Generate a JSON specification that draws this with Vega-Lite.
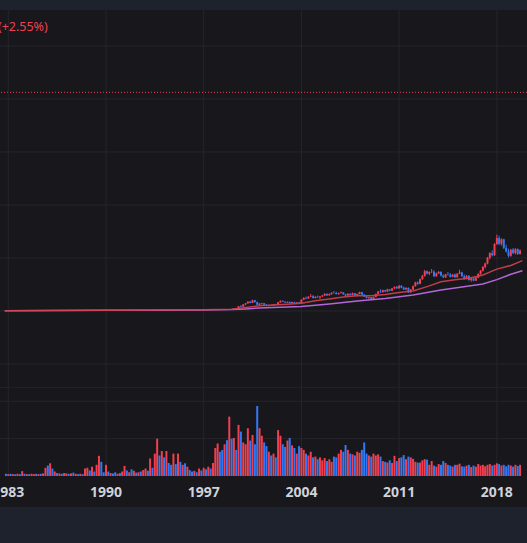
{
"$schema":"https://vega.github.io/schema/vega-lite/v6.json",
"background":"#1e222d",
"padding":{"top":10,"left":0,"right":0,"bottom":36},
"spacing":1,
"config":{"view":{"stroke":null,"fill":"#17171c"},"font":"Noto Sans"},
"datasets":{
"one":[{"n":1}],
"yr":[{"d":"1983-01-01","t":"1983"},{"d":"1990-01-01","t":"1990"},{"d":"1997-01-01","t":"1997"},{"d":"2004-01-01","t":"2004"},{"d":"2011-01-01","t":"2011"},{"d":"2018-01-01","t":"2018"}],
"pg":[{"g":-50},{"g":0},{"g":50},{"g":100},{"g":150},{"g":200},{"g":250}],
"vg":[{"g":1},{"g":2}],
"m":[{"d":"1982-10","r":0.3,"p":0.3},{"d":"1986-01","r":0.45,"p":0.4},{"d":"1990-01","r":0.75,"p":0.6},{"d":"1994-01","r":1.0,"p":0.8},{"d":"1997-01","r":1.15,"p":1.0},{"d":"1998-01","r":1.3,"p":1.1},{"d":"1999-01","r":1.6,"p":1.3},{"d":"2000-01","r":3.2,"p":2.0},{"d":"2001-01","r":5.0,"p":2.8},{"d":"2002-01","r":5.6,"p":3.3},{"d":"2003-01","r":6.4,"p":3.7},{"d":"2004-01","r":7.4,"p":4.2},{"d":"2005-01","r":9.6,"p":5.4},{"d":"2006-01","r":11.4,"p":6.6},{"d":"2007-01","r":13.2,"p":8.0},{"d":"2008-01","r":14.4,"p":9.4},{"d":"2009-01","r":14.4,"p":10.6},{"d":"2010-01","r":15.6,"p":11.8},{"d":"2011-01","r":17.4,"p":13.4},{"d":"2012-01","r":18.8,"p":15.0},{"d":"2013-01","r":23.0,"p":17.4},{"d":"2014-01","r":27.5,"p":19.8},{"d":"2015-01","r":29.5,"p":21.8},{"d":"2016-01","r":31.0,"p":23.6},{"d":"2017-01","r":34.0,"p":25.4},{"d":"2018-01","r":39.5,"p":29.6},{"d":"2019-01","r":43.0,"p":34.6},{"d":"2019-11","r":47.5,"p":38.0}],
"k":[
{"d":"1982-11","o":0.30,"h":0.35,"l":0.25,"c":0.28,"v":0.06},
{"d":"1983-01","o":0.28,"h":0.34,"l":0.24,"c":0.31,"v":0.05},
{"d":"1983-03","o":0.31,"h":0.36,"l":0.27,"c":0.29,"v":0.06},
{"d":"1983-05","o":0.29,"h":0.33,"l":0.25,"c":0.32,"v":0.05},
{"d":"1983-07","o":0.32,"h":0.36,"l":0.28,"c":0.30,"v":0.05},
{"d":"1983-09","o":0.30,"h":0.35,"l":0.26,"c":0.33,"v":0.06},
{"d":"1983-11","o":0.33,"h":0.37,"l":0.29,"c":0.31,"v":0.05},
{"d":"1984-01","o":0.31,"h":0.40,"l":0.30,"c":0.37,"v":0.13},
{"d":"1984-03","o":0.37,"h":0.39,"l":0.32,"c":0.33,"v":0.06},
{"d":"1984-05","o":0.33,"h":0.37,"l":0.30,"c":0.35,"v":0.05},
{"d":"1984-07","o":0.35,"h":0.38,"l":0.31,"c":0.32,"v":0.05},
{"d":"1984-09","o":0.32,"h":0.37,"l":0.30,"c":0.36,"v":0.06},
{"d":"1984-11","o":0.36,"h":0.40,"l":0.33,"c":0.38,"v":0.05},
{"d":"1985-01","o":0.38,"h":0.41,"l":0.34,"c":0.35,"v":0.06},
{"d":"1985-03","o":0.35,"h":0.40,"l":0.33,"c":0.39,"v":0.05},
{"d":"1985-05","o":0.39,"h":0.42,"l":0.35,"c":0.36,"v":0.06},
{"d":"1985-07","o":0.36,"h":0.41,"l":0.34,"c":0.40,"v":0.07},
{"d":"1985-09","o":0.40,"h":0.52,"l":0.38,"c":0.50,"v":0.22},
{"d":"1985-11","o":0.50,"h":0.58,"l":0.45,"c":0.48,"v":0.28},
{"d":"1986-01","o":0.48,"h":0.65,"l":0.46,"c":0.62,"v":0.34},
{"d":"1986-03","o":0.62,"h":0.66,"l":0.52,"c":0.55,"v":0.20},
{"d":"1986-05","o":0.55,"h":0.60,"l":0.50,"c":0.57,"v":0.12},
{"d":"1986-07","o":0.57,"h":0.60,"l":0.50,"c":0.52,"v":0.08},
{"d":"1986-09","o":0.52,"h":0.58,"l":0.49,"c":0.56,"v":0.07},
{"d":"1986-11","o":0.56,"h":0.59,"l":0.51,"c":0.53,"v":0.06},
{"d":"1987-01","o":0.53,"h":0.60,"l":0.51,"c":0.58,"v":0.08},
{"d":"1987-03","o":0.58,"h":0.63,"l":0.55,"c":0.61,"v":0.07},
{"d":"1987-05","o":0.61,"h":0.63,"l":0.54,"c":0.56,"v":0.06},
{"d":"1987-07","o":0.56,"h":0.62,"l":0.54,"c":0.60,"v":0.07},
{"d":"1987-09","o":0.60,"h":0.62,"l":0.50,"c":0.52,"v":0.09},
{"d":"1987-11","o":0.52,"h":0.56,"l":0.49,"c":0.54,"v":0.06},
{"d":"1988-01","o":0.54,"h":0.57,"l":0.50,"c":0.51,"v":0.05},
{"d":"1988-03","o":0.51,"h":0.56,"l":0.49,"c":0.55,"v":0.06},
{"d":"1988-05","o":0.55,"h":0.58,"l":0.51,"c":0.53,"v":0.05},
{"d":"1988-07","o":0.53,"h":0.62,"l":0.52,"c":0.60,"v":0.20},
{"d":"1988-09","o":0.60,"h":0.66,"l":0.56,"c":0.64,"v":0.22},
{"d":"1988-11","o":0.64,"h":0.68,"l":0.58,"c":0.60,"v":0.15},
{"d":"1989-01","o":0.60,"h":0.70,"l":0.59,"c":0.68,"v":0.25},
{"d":"1989-03","o":0.68,"h":0.72,"l":0.62,"c":0.64,"v":0.12},
{"d":"1989-05","o":0.64,"h":0.80,"l":0.63,"c":0.78,"v":0.30},
{"d":"1989-07","o":0.78,"h":0.95,"l":0.74,"c":0.90,"v":0.54},
{"d":"1989-09","o":0.90,"h":0.93,"l":0.78,"c":0.82,"v":0.38},
{"d":"1989-11","o":0.82,"h":0.85,"l":0.76,"c":0.78,"v":0.10},
{"d":"1990-01","o":0.78,"h":0.90,"l":0.77,"c":0.86,"v":0.30},
{"d":"1990-03","o":0.86,"h":0.88,"l":0.78,"c":0.80,"v":0.12},
{"d":"1990-05","o":0.80,"h":0.84,"l":0.76,"c":0.82,"v":0.08},
{"d":"1990-07","o":0.82,"h":0.85,"l":0.76,"c":0.77,"v":0.07},
{"d":"1990-09","o":0.77,"h":0.80,"l":0.72,"c":0.74,"v":0.10},
{"d":"1990-11","o":0.74,"h":0.79,"l":0.72,"c":0.77,"v":0.06},
{"d":"1991-01","o":0.77,"h":0.80,"l":0.74,"c":0.75,"v":0.08},
{"d":"1991-03","o":0.75,"h":0.82,"l":0.74,"c":0.80,"v":0.12},
{"d":"1991-05","o":0.80,"h":0.86,"l":0.78,"c":0.84,"v":0.27},
{"d":"1991-07","o":0.84,"h":0.86,"l":0.79,"c":0.81,"v":0.15},
{"d":"1991-09","o":0.81,"h":0.85,"l":0.78,"c":0.83,"v":0.10},
{"d":"1991-11","o":0.83,"h":0.86,"l":0.78,"c":0.80,"v":0.18},
{"d":"1992-01","o":0.80,"h":0.86,"l":0.79,"c":0.85,"v":0.14},
{"d":"1992-03","o":0.85,"h":0.88,"l":0.80,"c":0.82,"v":0.09},
{"d":"1992-05","o":0.82,"h":0.87,"l":0.80,"c":0.86,"v":0.10},
{"d":"1992-07","o":0.86,"h":0.88,"l":0.80,"c":0.81,"v":0.12},
{"d":"1992-09","o":0.81,"h":0.86,"l":0.79,"c":0.84,"v":0.16},
{"d":"1992-11","o":0.84,"h":0.90,"l":0.82,"c":0.88,"v":0.20},
{"d":"1993-01","o":0.88,"h":0.92,"l":0.84,"c":0.86,"v":0.14},
{"d":"1993-03","o":0.86,"h":0.98,"l":0.85,"c":0.96,"v":0.47},
{"d":"1993-05","o":0.96,"h":1.00,"l":0.88,"c":0.90,"v":0.22},
{"d":"1993-07","o":0.90,"h":1.05,"l":0.88,"c":1.02,"v":0.60},
{"d":"1993-09","o":1.02,"h":1.25,"l":1.00,"c":1.20,"v":1.00},
{"d":"1993-11","o":1.20,"h":1.22,"l":1.05,"c":1.08,"v":0.55},
{"d":"1994-01","o":1.08,"h":1.20,"l":1.04,"c":1.15,"v":0.67},
{"d":"1994-03","o":1.15,"h":1.18,"l":1.02,"c":1.05,"v":0.50},
{"d":"1994-05","o":1.05,"h":1.20,"l":1.03,"c":1.16,"v":0.67},
{"d":"1994-07","o":1.16,"h":1.18,"l":1.06,"c":1.08,"v":0.35},
{"d":"1994-09","o":1.08,"h":1.12,"l":1.02,"c":1.04,"v":0.30},
{"d":"1994-11","o":1.04,"h":1.14,"l":1.02,"c":1.12,"v":0.60},
{"d":"1995-01","o":1.12,"h":1.14,"l":1.02,"c":1.04,"v":0.32},
{"d":"1995-03","o":1.04,"h":1.18,"l":1.02,"c":1.15,"v":0.60},
{"d":"1995-05","o":1.15,"h":1.20,"l":1.08,"c":1.10,"v":0.38},
{"d":"1995-07","o":1.10,"h":1.14,"l":1.05,"c":1.12,"v":0.30},
{"d":"1995-09","o":1.12,"h":1.15,"l":1.06,"c":1.08,"v":0.34},
{"d":"1995-11","o":1.08,"h":1.12,"l":1.04,"c":1.10,"v":0.25},
{"d":"1996-01","o":1.10,"h":1.13,"l":1.05,"c":1.07,"v":0.16},
{"d":"1996-03","o":1.07,"h":1.10,"l":1.03,"c":1.05,"v":0.12},
{"d":"1996-05","o":1.05,"h":1.10,"l":1.03,"c":1.08,"v":0.14},
{"d":"1996-07","o":1.08,"h":1.10,"l":1.02,"c":1.04,"v":0.10},
{"d":"1996-09","o":1.04,"h":1.10,"l":1.02,"c":1.08,"v":0.20},
{"d":"1996-11","o":1.08,"h":1.12,"l":1.04,"c":1.06,"v":0.15},
{"d":"1997-01","o":1.06,"h":1.12,"l":1.04,"c":1.10,"v":0.22},
{"d":"1997-03","o":1.10,"h":1.14,"l":1.04,"c":1.06,"v":0.18},
{"d":"1997-05","o":1.06,"h":1.14,"l":1.04,"c":1.12,"v":0.25},
{"d":"1997-07","o":1.12,"h":1.18,"l":1.08,"c":1.10,"v":0.20},
{"d":"1997-09","o":1.10,"h":1.20,"l":1.06,"c":1.16,"v":0.35},
{"d":"1997-11","o":1.16,"h":1.40,"l":1.10,"c":1.35,"v":0.75},
{"d":"1998-01","o":1.35,"h":1.60,"l":1.30,"c":1.50,"v":0.87},
{"d":"1998-03","o":1.50,"h":1.55,"l":1.20,"c":1.25,"v":0.65},
{"d":"1998-05","o":1.25,"h":1.40,"l":1.00,"c":1.10,"v":0.70},
{"d":"1998-07","o":1.10,"h":1.50,"l":0.90,"c":1.40,"v":0.85},
{"d":"1998-09","o":1.40,"h":1.50,"l":0.80,"c":0.90,"v":0.96},
{"d":"1998-11","o":0.90,"h":1.90,"l":0.85,"c":1.80,"v":1.59},
{"d":"1999-01","o":1.80,"h":2.00,"l":1.50,"c":1.60,"v":1.00},
{"d":"1999-03","o":1.60,"h":2.10,"l":1.50,"c":2.00,"v":1.02},
{"d":"1999-05","o":2.00,"h":2.20,"l":1.70,"c":1.80,"v":0.70},
{"d":"1999-07","o":1.80,"h":4.80,"l":1.80,"c":4.50,"v":1.37},
{"d":"1999-09","o":4.50,"h":5.60,"l":3.60,"c":4.00,"v":1.19},
{"d":"1999-11","o":4.00,"h":6.50,"l":3.90,"c":6.20,"v":0.90},
{"d":"2000-01","o":6.20,"h":7.50,"l":5.50,"c":7.20,"v":0.85},
{"d":"2000-03","o":7.20,"h":9.20,"l":6.80,"c":8.80,"v":1.28},
{"d":"2000-05","o":8.80,"h":9.50,"l":7.20,"c":7.60,"v":0.95},
{"d":"2000-07","o":7.60,"h":10.6,"l":7.40,"c":10.2,"v":1.10},
{"d":"2000-09","o":10.2,"h":10.5,"l":8.00,"c":8.40,"v":0.85},
{"d":"2000-11","o":8.40,"h":8.80,"l":5.40,"c":5.80,"v":1.875},
{"d":"2001-01","o":5.80,"h":7.40,"l":5.50,"c":7.00,"v":1.28},
{"d":"2001-03","o":7.00,"h":7.80,"l":6.20,"c":7.40,"v":1.08},
{"d":"2001-05","o":7.40,"h":7.60,"l":5.40,"c":5.80,"v":0.90},
{"d":"2001-07","o":5.80,"h":6.40,"l":4.60,"c":5.00,"v":0.80},
{"d":"2001-09","o":5.00,"h":5.80,"l":4.20,"c":5.50,"v":0.65},
{"d":"2001-11","o":5.50,"h":6.20,"l":5.00,"c":5.40,"v":0.55},
{"d":"2002-01","o":5.40,"h":6.60,"l":5.20,"c":6.30,"v":0.60},
{"d":"2002-03","o":6.30,"h":6.80,"l":5.60,"c":6.00,"v":0.50},
{"d":"2002-05","o":6.00,"h":8.60,"l":5.90,"c":8.20,"v":1.23},
{"d":"2002-07","o":8.20,"h":10.0,"l":7.80,"c":9.60,"v":1.08},
{"d":"2002-09","o":9.60,"h":10.0,"l":8.40,"c":8.80,"v":0.85},
{"d":"2002-11","o":8.80,"h":9.00,"l":7.60,"c":8.00,"v":0.78},
{"d":"2003-01","o":8.00,"h":9.00,"l":7.60,"c":8.60,"v":0.95},
{"d":"2003-03","o":8.60,"h":8.80,"l":7.20,"c":7.50,"v":1.02},
{"d":"2003-05","o":7.50,"h":8.80,"l":7.30,"c":8.50,"v":0.82},
{"d":"2003-07","o":8.50,"h":8.80,"l":7.40,"c":7.80,"v":0.75},
{"d":"2003-09","o":7.80,"h":8.60,"l":7.20,"c":8.20,"v":0.60},
{"d":"2003-11","o":8.20,"h":8.60,"l":7.40,"c":7.70,"v":0.80},
{"d":"2004-01","o":7.70,"h":11.0,"l":7.60,"c":10.6,"v":0.75},
{"d":"2004-03","o":10.6,"h":12.8,"l":10.2,"c":12.4,"v":0.70},
{"d":"2004-05","o":12.4,"h":13.6,"l":11.2,"c":11.8,"v":0.60},
{"d":"2004-07","o":11.8,"h":14.0,"l":11.5,"c":13.5,"v":0.55},
{"d":"2004-09","o":13.5,"h":16.0,"l":13.0,"c":14.0,"v":0.65},
{"d":"2004-11","o":14.0,"h":15.0,"l":11.8,"c":12.2,"v":0.50},
{"d":"2005-01","o":12.2,"h":13.8,"l":11.8,"c":13.4,"v":0.52},
{"d":"2005-03","o":13.4,"h":14.6,"l":12.5,"c":12.9,"v":0.45},
{"d":"2005-05","o":12.9,"h":14.2,"l":11.3,"c":13.8,"v":0.50},
{"d":"2005-07","o":13.8,"h":15.2,"l":13.0,"c":14.6,"v":0.42},
{"d":"2005-09","o":14.6,"h":16.7,"l":14.0,"c":16.2,"v":0.48},
{"d":"2005-11","o":16.2,"h":16.5,"l":14.2,"c":14.8,"v":0.40},
{"d":"2006-01","o":14.8,"h":16.6,"l":14.4,"c":16.0,"v":0.45},
{"d":"2006-03","o":16.0,"h":17.8,"l":15.2,"c":17.2,"v":0.38},
{"d":"2006-05","o":17.2,"h":18.9,"l":16.4,"c":17.0,"v":0.52},
{"d":"2006-07","o":17.0,"h":18.2,"l":15.6,"c":16.0,"v":0.50},
{"d":"2006-09","o":16.0,"h":17.4,"l":15.2,"c":17.0,"v":0.60},
{"d":"2006-11","o":17.0,"h":18.4,"l":16.4,"c":17.6,"v":0.70},
{"d":"2007-01","o":17.6,"h":17.8,"l":15.4,"c":15.8,"v":0.65},
{"d":"2007-03","o":15.8,"h":16.2,"l":14.0,"c":14.6,"v":0.83},
{"d":"2007-05","o":14.6,"h":16.8,"l":14.2,"c":16.2,"v":0.70},
{"d":"2007-07","o":16.2,"h":16.6,"l":14.6,"c":15.0,"v":0.60},
{"d":"2007-09","o":15.0,"h":17.4,"l":14.8,"c":16.8,"v":0.58},
{"d":"2007-11","o":16.8,"h":17.0,"l":14.4,"c":15.0,"v":0.55},
{"d":"2008-01","o":15.0,"h":16.4,"l":13.8,"c":16.0,"v":0.65},
{"d":"2008-03","o":16.0,"h":18.2,"l":15.6,"c":17.8,"v":0.62},
{"d":"2008-05","o":17.8,"h":18.0,"l":15.0,"c":15.4,"v":0.70},
{"d":"2008-07","o":15.4,"h":15.8,"l":13.2,"c":13.6,"v":0.90},
{"d":"2008-09","o":13.6,"h":14.4,"l":11.8,"c":12.4,"v":0.60},
{"d":"2008-11","o":12.4,"h":13.4,"l":11.0,"c":13.0,"v":0.55},
{"d":"2009-01","o":13.0,"h":13.2,"l":11.0,"c":11.4,"v":0.52},
{"d":"2009-03","o":11.4,"h":13.6,"l":11.2,"c":13.2,"v":0.60},
{"d":"2009-05","o":13.2,"h":16.4,"l":13.0,"c":16.0,"v":0.55},
{"d":"2009-07","o":16.0,"h":19.0,"l":15.6,"c":18.4,"v":0.58},
{"d":"2009-09","o":18.4,"h":20.5,"l":17.2,"c":17.8,"v":0.52},
{"d":"2009-11","o":17.8,"h":20.2,"l":17.4,"c":19.6,"v":0.40},
{"d":"2010-01","o":19.6,"h":20.0,"l":17.8,"c":18.4,"v":0.38},
{"d":"2010-03","o":18.4,"h":21.0,"l":18.0,"c":20.4,"v":0.36},
{"d":"2010-05","o":20.4,"h":20.8,"l":18.6,"c":19.2,"v":0.42},
{"d":"2010-07","o":19.2,"h":21.8,"l":18.8,"c":21.4,"v":0.35},
{"d":"2010-09","o":21.4,"h":23.2,"l":20.6,"c":22.8,"v":0.54},
{"d":"2010-11","o":22.8,"h":23.6,"l":20.8,"c":21.4,"v":0.40},
{"d":"2011-01","o":21.4,"h":24.5,"l":21.0,"c":23.8,"v":0.48},
{"d":"2011-03","o":23.8,"h":24.4,"l":21.4,"c":22.0,"v":0.50},
{"d":"2011-05","o":22.0,"h":23.0,"l":19.8,"c":20.4,"v":0.56},
{"d":"2011-07","o":20.4,"h":22.4,"l":19.6,"c":21.8,"v":0.45},
{"d":"2011-09","o":21.8,"h":22.2,"l":17.0,"c":17.6,"v":0.52},
{"d":"2011-11","o":17.6,"h":20.8,"l":17.2,"c":20.2,"v":0.50},
{"d":"2012-01","o":20.2,"h":24.0,"l":19.8,"c":23.4,"v":0.46},
{"d":"2012-03","o":23.4,"h":27.6,"l":23.0,"c":27.0,"v":0.38},
{"d":"2012-05","o":27.0,"h":28.0,"l":24.6,"c":25.6,"v":0.36},
{"d":"2012-07","o":25.6,"h":30.6,"l":25.2,"c":30.0,"v":0.36},
{"d":"2012-09","o":30.0,"h":34.0,"l":29.4,"c":33.2,"v":0.42},
{"d":"2012-11","o":33.2,"h":38.8,"l":32.4,"c":37.6,"v":0.45},
{"d":"2013-01","o":37.6,"h":38.2,"l":34.6,"c":35.2,"v":0.44},
{"d":"2013-03","o":35.2,"h":37.4,"l":33.8,"c":36.8,"v":0.30},
{"d":"2013-05","o":36.8,"h":39.6,"l":35.8,"c":37.0,"v":0.40},
{"d":"2013-07","o":37.0,"h":38.4,"l":32.0,"c":32.8,"v":0.28},
{"d":"2013-09","o":32.8,"h":36.2,"l":32.2,"c":35.6,"v":0.25},
{"d":"2013-11","o":35.6,"h":37.8,"l":34.8,"c":36.8,"v":0.32},
{"d":"2014-01","o":36.8,"h":37.6,"l":32.6,"c":33.4,"v":0.30},
{"d":"2014-03","o":33.4,"h":34.6,"l":31.0,"c":31.8,"v":0.40},
{"d":"2014-05","o":31.8,"h":35.0,"l":31.2,"c":34.6,"v":0.35},
{"d":"2014-07","o":34.6,"h":36.8,"l":33.6,"c":34.2,"v":0.30},
{"d":"2014-09","o":34.2,"h":35.8,"l":31.6,"c":32.2,"v":0.28},
{"d":"2014-11","o":32.2,"h":34.8,"l":31.8,"c":34.4,"v":0.25},
{"d":"2015-01","o":34.4,"h":35.4,"l":31.2,"c":31.8,"v":0.30},
{"d":"2015-03","o":31.8,"h":35.6,"l":31.4,"c":35.2,"v":0.30},
{"d":"2015-05","o":35.2,"h":38.8,"l":34.8,"c":36.4,"v":0.33},
{"d":"2015-07","o":36.4,"h":37.0,"l":32.2,"c":32.8,"v":0.26},
{"d":"2015-09","o":32.8,"h":34.4,"l":29.6,"c":30.4,"v":0.25},
{"d":"2015-11","o":30.4,"h":33.8,"l":30.0,"c":33.2,"v":0.28},
{"d":"2016-01","o":33.2,"h":33.6,"l":28.6,"c":29.2,"v":0.30},
{"d":"2016-03","o":29.2,"h":31.4,"l":27.6,"c":30.8,"v":0.24},
{"d":"2016-05","o":30.8,"h":31.6,"l":28.0,"c":28.6,"v":0.28},
{"d":"2016-07","o":28.6,"h":32.0,"l":28.2,"c":31.4,"v":0.25},
{"d":"2016-09","o":31.4,"h":35.6,"l":31.0,"c":35.0,"v":0.32},
{"d":"2016-11","o":35.0,"h":38.6,"l":34.2,"c":38.0,"v":0.28},
{"d":"2017-01","o":38.0,"h":42.4,"l":37.2,"c":41.6,"v":0.30},
{"d":"2017-03","o":41.6,"h":45.6,"l":40.2,"c":44.8,"v":0.26},
{"d":"2017-05","o":44.8,"h":51.0,"l":44.0,"c":50.2,"v":0.30},
{"d":"2017-07","o":50.2,"h":55.4,"l":48.8,"c":54.6,"v":0.32},
{"d":"2017-09","o":54.6,"h":57.2,"l":51.4,"c":52.6,"v":0.28},
{"d":"2017-11","o":52.6,"h":64.0,"l":52.0,"c":63.2,"v":0.30},
{"d":"2018-01","o":63.2,"h":72.0,"l":62.4,"c":68.8,"v":0.34},
{"d":"2018-03","o":68.8,"h":71.0,"l":62.0,"c":63.4,"v":0.32},
{"d":"2018-05","o":63.4,"h":68.6,"l":61.8,"c":67.6,"v":0.28},
{"d":"2018-07","o":67.6,"h":68.2,"l":58.4,"c":59.6,"v":0.30},
{"d":"2018-09","o":59.6,"h":62.6,"l":55.2,"c":56.2,"v":0.26},
{"d":"2018-11","o":56.2,"h":58.8,"l":50.6,"c":52.0,"v":0.30},
{"d":"2019-01","o":52.0,"h":58.6,"l":51.2,"c":57.8,"v":0.28},
{"d":"2019-03","o":57.8,"h":59.4,"l":53.6,"c":54.8,"v":0.25},
{"d":"2019-05","o":54.8,"h":59.2,"l":53.4,"c":58.4,"v":0.30},
{"d":"2019-07","o":58.4,"h":59.0,"l":52.8,"c":53.8,"v":0.27},
{"d":"2019-09","o":53.8,"h":58.0,"l":53.2,"c":57.2,"v":0.30}
]},
"vconcat":[
{"width":527,"height":377,
"layer":[
{"data":{"name":"yr"},"mark":{"type":"rule","clip":true,"color":"#25262c","strokeWidth":1},
"encoding":{"x":{"field":"d","type":"temporal","axis":null,"scale":{"domain":[{"year":1982,"month":10,"date":8},{"year":2019,"month":10,"date":21}]}}}},
{"data":{"name":"pg"},"mark":{"type":"rule","clip":true,"color":"#25262c","strokeWidth":1},
"encoding":{"y":{"field":"g","type":"quantitative","axis":null,"scale":{"domain":[-71.7,283.96],"nice":false,"zero":false}}}},
{"data":{"name":"k"},"mark":{"type":"rule","clip":true,"strokeWidth":1},
"encoding":{"x":{"field":"d","type":"temporal","axis":null,"scale":{"domain":[{"year":1982,"month":10,"date":8},{"year":2019,"month":10,"date":21}]}},
"y":{"field":"l","type":"quantitative","axis":null,"scale":{"domain":[-71.7,283.96],"nice":false,"zero":false}},"y2":{"field":"h"},
"color":{"condition":{"test":"datum.c>=datum.o","value":"#f23f4f"},"value":"#3179f5"}}},
{"data":{"name":"k"},"mark":{"type":"bar","clip":true,"size":2},
"encoding":{"x":{"field":"d","type":"temporal","axis":null,"scale":{"domain":[{"year":1982,"month":10,"date":8},{"year":2019,"month":10,"date":21}]}},
"y":{"field":"o","type":"quantitative","axis":null,"scale":{"domain":[-71.7,283.96],"nice":false,"zero":false}},"y2":{"field":"c"},
"color":{"condition":{"test":"datum.c>=datum.o","value":"#f23f4f"},"value":"#3179f5"}}},
{"data":{"name":"m"},"mark":{"type":"line","clip":true,"color":"#b466d6","strokeWidth":1.5},
"encoding":{"x":{"field":"d","type":"temporal","axis":null,"scale":{"domain":[{"year":1982,"month":10,"date":8},{"year":2019,"month":10,"date":21}]}},
"y":{"field":"p","type":"quantitative","axis":null,"scale":{"domain":[-71.7,283.96],"nice":false,"zero":false}}}},
{"data":{"name":"m"},"mark":{"type":"line","clip":true,"color":"#d0424f","strokeWidth":1.5,"opacity":0.9},
"encoding":{"x":{"field":"d","type":"temporal","axis":null,"scale":{"domain":[{"year":1982,"month":10,"date":8},{"year":2019,"month":10,"date":21}]}},
"y":{"field":"r","type":"quantitative","axis":null,"scale":{"domain":[-71.7,283.96],"nice":false,"zero":false}}}},
{"data":{"name":"one"},"mark":{"type":"rule","clip":true,"color":"#f23f4f","strokeWidth":1,"strokeDash":[1,2]},
"encoding":{"y":{"datum":206.3,"type":"quantitative","axis":null,"scale":{"domain":[-71.7,283.96],"nice":false,"zero":false}}}},
{"data":{"name":"one"},"mark":{"type":"text","clip":true,"align":"right","baseline":"middle","fontSize":12.5,"color":"#f23f4f","font":"Noto Sans"},
"encoding":{"x":{"datum":{"year":1985,"month":10,"date":30},"type":"temporal","axis":null,"scale":{"domain":[{"year":1982,"month":10,"date":8},{"year":2019,"month":10,"date":21}]}},
"y":{"datum":267.9,"type":"quantitative","axis":null,"scale":{"domain":[-71.7,283.96],"nice":false,"zero":false}},
"text":{"value":"(+2.55%)"}}}
]},
{"width":527,"height":119,
"layer":[
{"data":{"name":"yr"},"mark":{"type":"rule","clip":true,"color":"#25262c","strokeWidth":1},
"encoding":{"x":{"field":"d","type":"temporal","axis":null,"scale":{"domain":[{"year":1982,"month":10,"date":8},{"year":2019,"month":10,"date":21}]}},
"y":{"datum":2.357,"type":"quantitative","axis":null,"scale":{"domain":[-0.83,2.357],"nice":false,"zero":false}},"y2":{"datum":0}}},
{"data":{"name":"vg"},"mark":{"type":"rule","clip":true,"color":"#25262c","strokeWidth":1},
"encoding":{"y":{"field":"g","type":"quantitative","axis":null,"scale":{"domain":[-0.83,2.357],"nice":false,"zero":false}}}},
{"data":{"name":"k"},"mark":{"type":"bar","clip":true,"size":2},
"encoding":{"x":{"field":"d","type":"temporal","axis":null,"scale":{"domain":[{"year":1982,"month":10,"date":8},{"year":2019,"month":10,"date":21}]}},
"y":{"field":"v","type":"quantitative","axis":null,"scale":{"domain":[-0.83,2.357],"nice":false,"zero":false}},"y2":{"datum":0},
"color":{"condition":{"test":"datum.c>=datum.o","value":"#f23f4f"},"value":"#3179f5"}}},
{"data":{"name":"yr"},"mark":{"type":"text","clip":true,"align":"center","baseline":"middle","fontSize":14,"fontWeight":"bold","color":"#cfd2da","font":"Noto Sans"},
"encoding":{"x":{"field":"d","type":"temporal","axis":null,"scale":{"domain":[{"year":1982,"month":10,"date":8},{"year":2019,"month":10,"date":21}]}},
"y":{"datum":-0.455,"type":"quantitative","axis":null,"scale":{"domain":[-0.83,2.357],"nice":false,"zero":false}},
"text":{"field":"t"}}}
]}
]
}
